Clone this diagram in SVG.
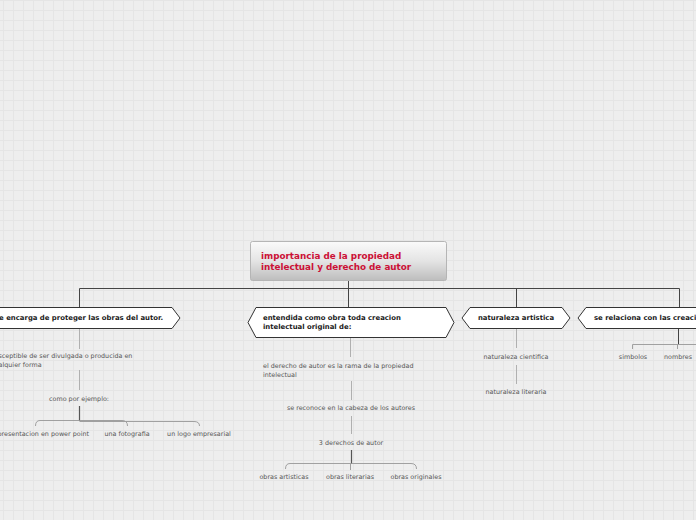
<svg xmlns="http://www.w3.org/2000/svg" width="696" height="520" viewBox="0 0 696 520">
<defs>
<pattern id="grid" width="10" height="10" patternUnits="userSpaceOnUse" x="3" y="0">
<rect width="10" height="10" fill="#eeeeee"/>
<path d="M0 0.5H10M0.5 0V10" stroke="#e5e5e5" stroke-width="1" fill="none"/>
</pattern>
<linearGradient id="cg" x1="0" y1="0" x2="0" y2="1">
<stop offset="0" stop-color="#fafafa"/>
<stop offset="0.5" stop-color="#e4e4e4"/>
<stop offset="1" stop-color="#bdbdbd"/>
</linearGradient>
</defs>
<style>
.n{fill:#fff;stroke:#333;stroke-width:1}
.nt{font-family:"DejaVu Sans",Verdana,sans-serif;font-size:6.9px;font-weight:bold;fill:#1a1a1a}
.t{font-family:"DejaVu Sans",Verdana,sans-serif;font-size:6.4px;fill:#555}
.title{font-family:"DejaVu Sans",Verdana,sans-serif;font-size:8.8px;font-weight:bold;fill:#cc1136}
.main{stroke:#444;stroke-width:1;fill:none}
.lt{stroke:#b0b0b0;stroke-width:1;fill:none}
.dk{stroke:#555;stroke-width:1.2;fill:none}
.br{stroke:#a0a0a0;stroke-width:1;fill:none}
.lbl{opacity:0.99}
</style>
<rect width="696" height="520" fill="url(#grid)"/>
<g id="connectors">
<path class="main" d="M348.5 280V288.5M79.5 288.5H679.5M79.5 288.5V307M348.5 288.5V307M516.5 288.5V307M679.5 288.5V307"/>
<path class="lt" d="M79.5 328V349M79.5 370V390"/>
<path class="dk" d="M79.5 406V421"/>
<path class="br" d="M79.5 420.5H40Q35.5 420.5 35.5 426M79.5 420.5H122Q127.5 420.5 127.5 426M79.5 421.5H194Q199.5 421.5 199.5 426"/>
<path class="lt" d="M350.5 337V357M351.5 381V400M351.5 416V434"/>
<path class="dk" d="M351.5 450V464"/>
<path class="br" d="M351.5 463.5H290Q285.5 463.5 285.5 469M351.5 463.5H411Q416.5 463.5 416.5 469M350.5 463.5V470"/>
<path class="lt" d="M516.5 328V348M516.5 365V384"/>
<path class="main" d="M678.5 328V344.5"/>
<path class="br" d="M632.5 349V344.5H696M677.5 344.5V349"/>
</g>
<g id="center">
<rect x="250.5" y="241.5" width="196" height="39" rx="2" fill="url(#cg)" stroke="#b5b5b5"/>
<text class="title" x="261" y="259">importancia de la propiedad</text>
<text class="title" x="261" y="270">intelectual y derecho de autor</text>
</g>
<g id="node1">
<polygon class="n" points="-30,307.5 172,307.5 180,318 172,328.5 -30,328.5"/>
<text class="nt" x="79" y="320" text-anchor="middle">se encarga de proteger las obras del autor.</text>
</g>
<g id="node2">
<polygon class="n" points="256,307.5 446,307.5 454,322.5 446,337.5 256,337.5 248,322.5"/>
<text class="nt" x="263" y="319.5">entendida como obra toda creacion</text>
<text class="nt" x="263" y="328.5">intelectual original de:</text>
</g>
<g id="node3">
<polygon class="n" points="470,307.5 562,307.5 570,318 562,328.5 470,328.5 462,318"/>
<text class="nt" x="516" y="320" text-anchor="middle">naturaleza artistica</text>
</g>
<g id="node4">
<polygon class="n" points="586,307.5 740,307.5 740,328.5 586,328.5 578,318"/>
<text class="nt" x="594" y="320">se relaciona con las creaciones</text>
</g>
<g class="lbl">
<g id="n1a"><text class="t" x="-9" y="358">susceptible de ser divulgada o producida en</text><text class="t" x="-9" y="367">cualquier forma</text></g>
<g id="n1b"><text class="t" x="79" y="401" text-anchor="middle">como por ejemplo:</text></g>
<g id="n1c"><text class="t" x="89" y="436" text-anchor="end">presentacion en power point</text></g>
<g id="n1d"><text class="t" x="127" y="436" text-anchor="middle">una fotografia</text></g>
<g id="n1e"><text class="t" x="199" y="436" text-anchor="middle">un logo empresarial</text></g>
<g id="n2a"><text class="t" x="263" y="368">el derecho de autor es la rama de la propiedad</text><text class="t" x="263" y="377">intelectual</text></g>
<g id="n2b"><text class="t" x="351" y="410" text-anchor="middle">se reconoce en la cabeza de los autores</text></g>
<g id="n2c"><text class="t" x="351" y="445" text-anchor="middle">3 derechos de autor</text></g>
<g id="n2d"><text class="t" x="284" y="479" text-anchor="middle">obras artisticas</text></g>
<g id="n2e"><text class="t" x="350" y="479" text-anchor="middle">obras literarias</text></g>
<g id="n2f"><text class="t" x="416" y="479" text-anchor="middle">obras originales</text></g>
<g id="n3a"><text class="t" x="516" y="359" text-anchor="middle">naturaleza cientifica</text></g>
<g id="n3b"><text class="t" x="516" y="394" text-anchor="middle">naturaleza literaria</text></g>
<g id="n4a"><text class="t" x="633" y="359" text-anchor="middle">simbolos</text></g>
<g id="n4b"><text class="t" x="678" y="359" text-anchor="middle">nombres</text></g>
</g>
</svg>
